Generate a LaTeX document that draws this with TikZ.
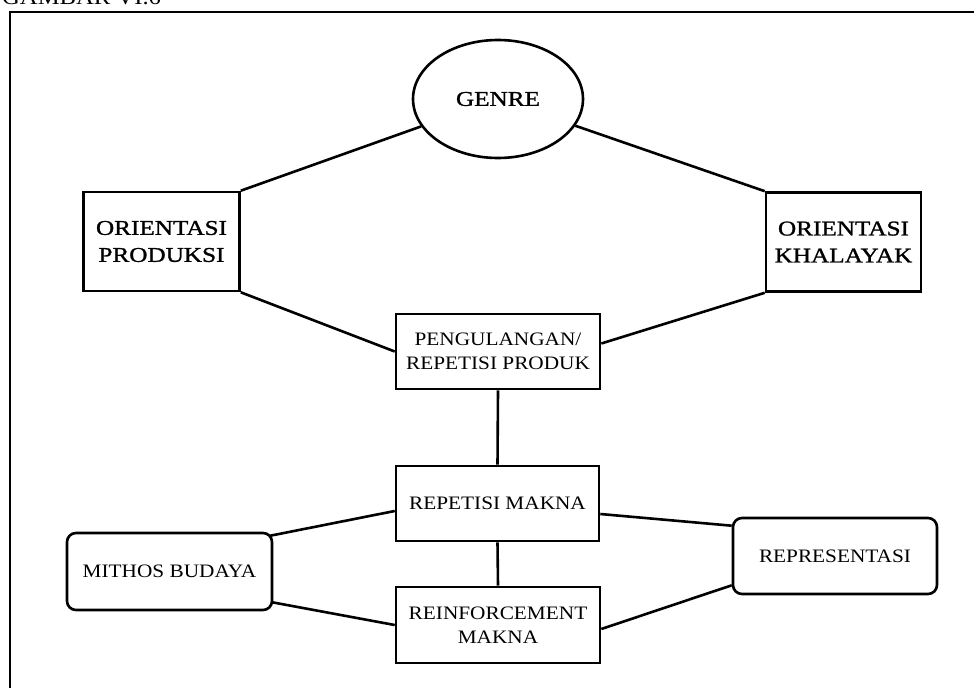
\documentclass[tikz,border=0pt]{standalone}
\usepackage{fontspec}
\setmainfont{Liberation Serif}
\newfontfamily\boxfont[FakeStretch=1.12]{Liberation Serif}
\newfontfamily\headfont[FakeStretch=1.2,FakeBold=1.2]{Liberation Serif}
\usetikzlibrary{shapes.geometric}

\begin{document}
\begin{tikzpicture}[x=1pt,y=-1pt,
  plainbox/.style={draw, line width=2.6pt, rectangle, inner sep=0pt, align=center,
    minimum width=204pt, minimum height=75pt,
    font=\boxfont\fontsize{19}{24}\selectfont},
  headbox/.style={draw, line width=2.6pt, rectangle, inner sep=0pt, align=center,
    minimum width=156pt, minimum height=99pt,
    font=\headfont\fontsize{21}{27}\selectfont},
  softbox/.style={plainbox, rounded corners=9pt, minimum width=205pt, minimum height=77pt},
  link/.style={line width=2.6pt},
  frameline/.style={line width=2pt}]

\clip (0,0) rectangle (974,688);
\useasboundingbox (0,0) rectangle (974,688);
\fill[white] (0,0) rectangle (974,688);

% figure caption, cut by the top edge
\node[anchor=base west, inner sep=0pt, font=\boxfont\fontsize{22}{26}\selectfont] (caption) at (2,5) {GAMBAR VI.6};

% outer frame (left and top edges)
\coordinate (frameA) at (10,688);
\coordinate (frameB) at (10,12);
\coordinate (frameC) at (974,12);
\draw[frameline] (frameA) -- (frameB) -- (frameC);

% nodes
\node[draw, ellipse, line width=2.6pt, inner sep=0pt, minimum width=170pt, minimum height=118pt,
  font=\headfont\fontsize{21}{26}\selectfont] (genre) at (498,99) {GENRE};
\node[headbox] (prod) at (161.5,241.5) {ORIENTASI\\PRODUKSI};
\node[headbox, minimum width=155pt] (khal) at (843.5,242) {ORIENTASI\\KHALAYAK};
\node[plainbox] (peng) at (498,351.5) {PENGULANGAN/\\REPETISI PRODUK};
\node[plainbox, minimum width=203pt] (rep) at (497.5,503.5) {REPETISI MAKNA};
\node[plainbox, minimum height=76pt] (reinf) at (498,625) {REINFORCEMENT\\MAKNA};
\node[softbox] (mith) at (169.5,571.5) {MITHOS BUDAYA};
\node[softbox, minimum width=204pt, minimum height=76pt] (repr) at (835,556) {REPRESENTASI};

% connectors
\draw[link] (genre) -- (prod.north east);
\draw[link] (genre) -- (khal.north west);
\draw[link] (prod.south east) -- (peng.west);
\draw[link] (khal.south west) -- ([yshift=8pt]peng.east);
\draw[link] (peng.south) -- (rep.north);
\draw[link] (rep.south) -- (reinf.north);
\draw[link] ([yshift=-7.5pt]rep.west) -- ([xshift=-3pt,yshift=-4pt]mith.north east);
\draw[link] ([xshift=-1pt,yshift=9pt]mith.south east) -- (reinf.west);
\draw[link] ([yshift=-10.5pt]rep.east) -- ([yshift=-9pt]repr.north west);
\draw[link] ([yshift=-4pt]reinf.east) -- ([yshift=10pt]repr.south west);
\end{tikzpicture}
\end{document}
